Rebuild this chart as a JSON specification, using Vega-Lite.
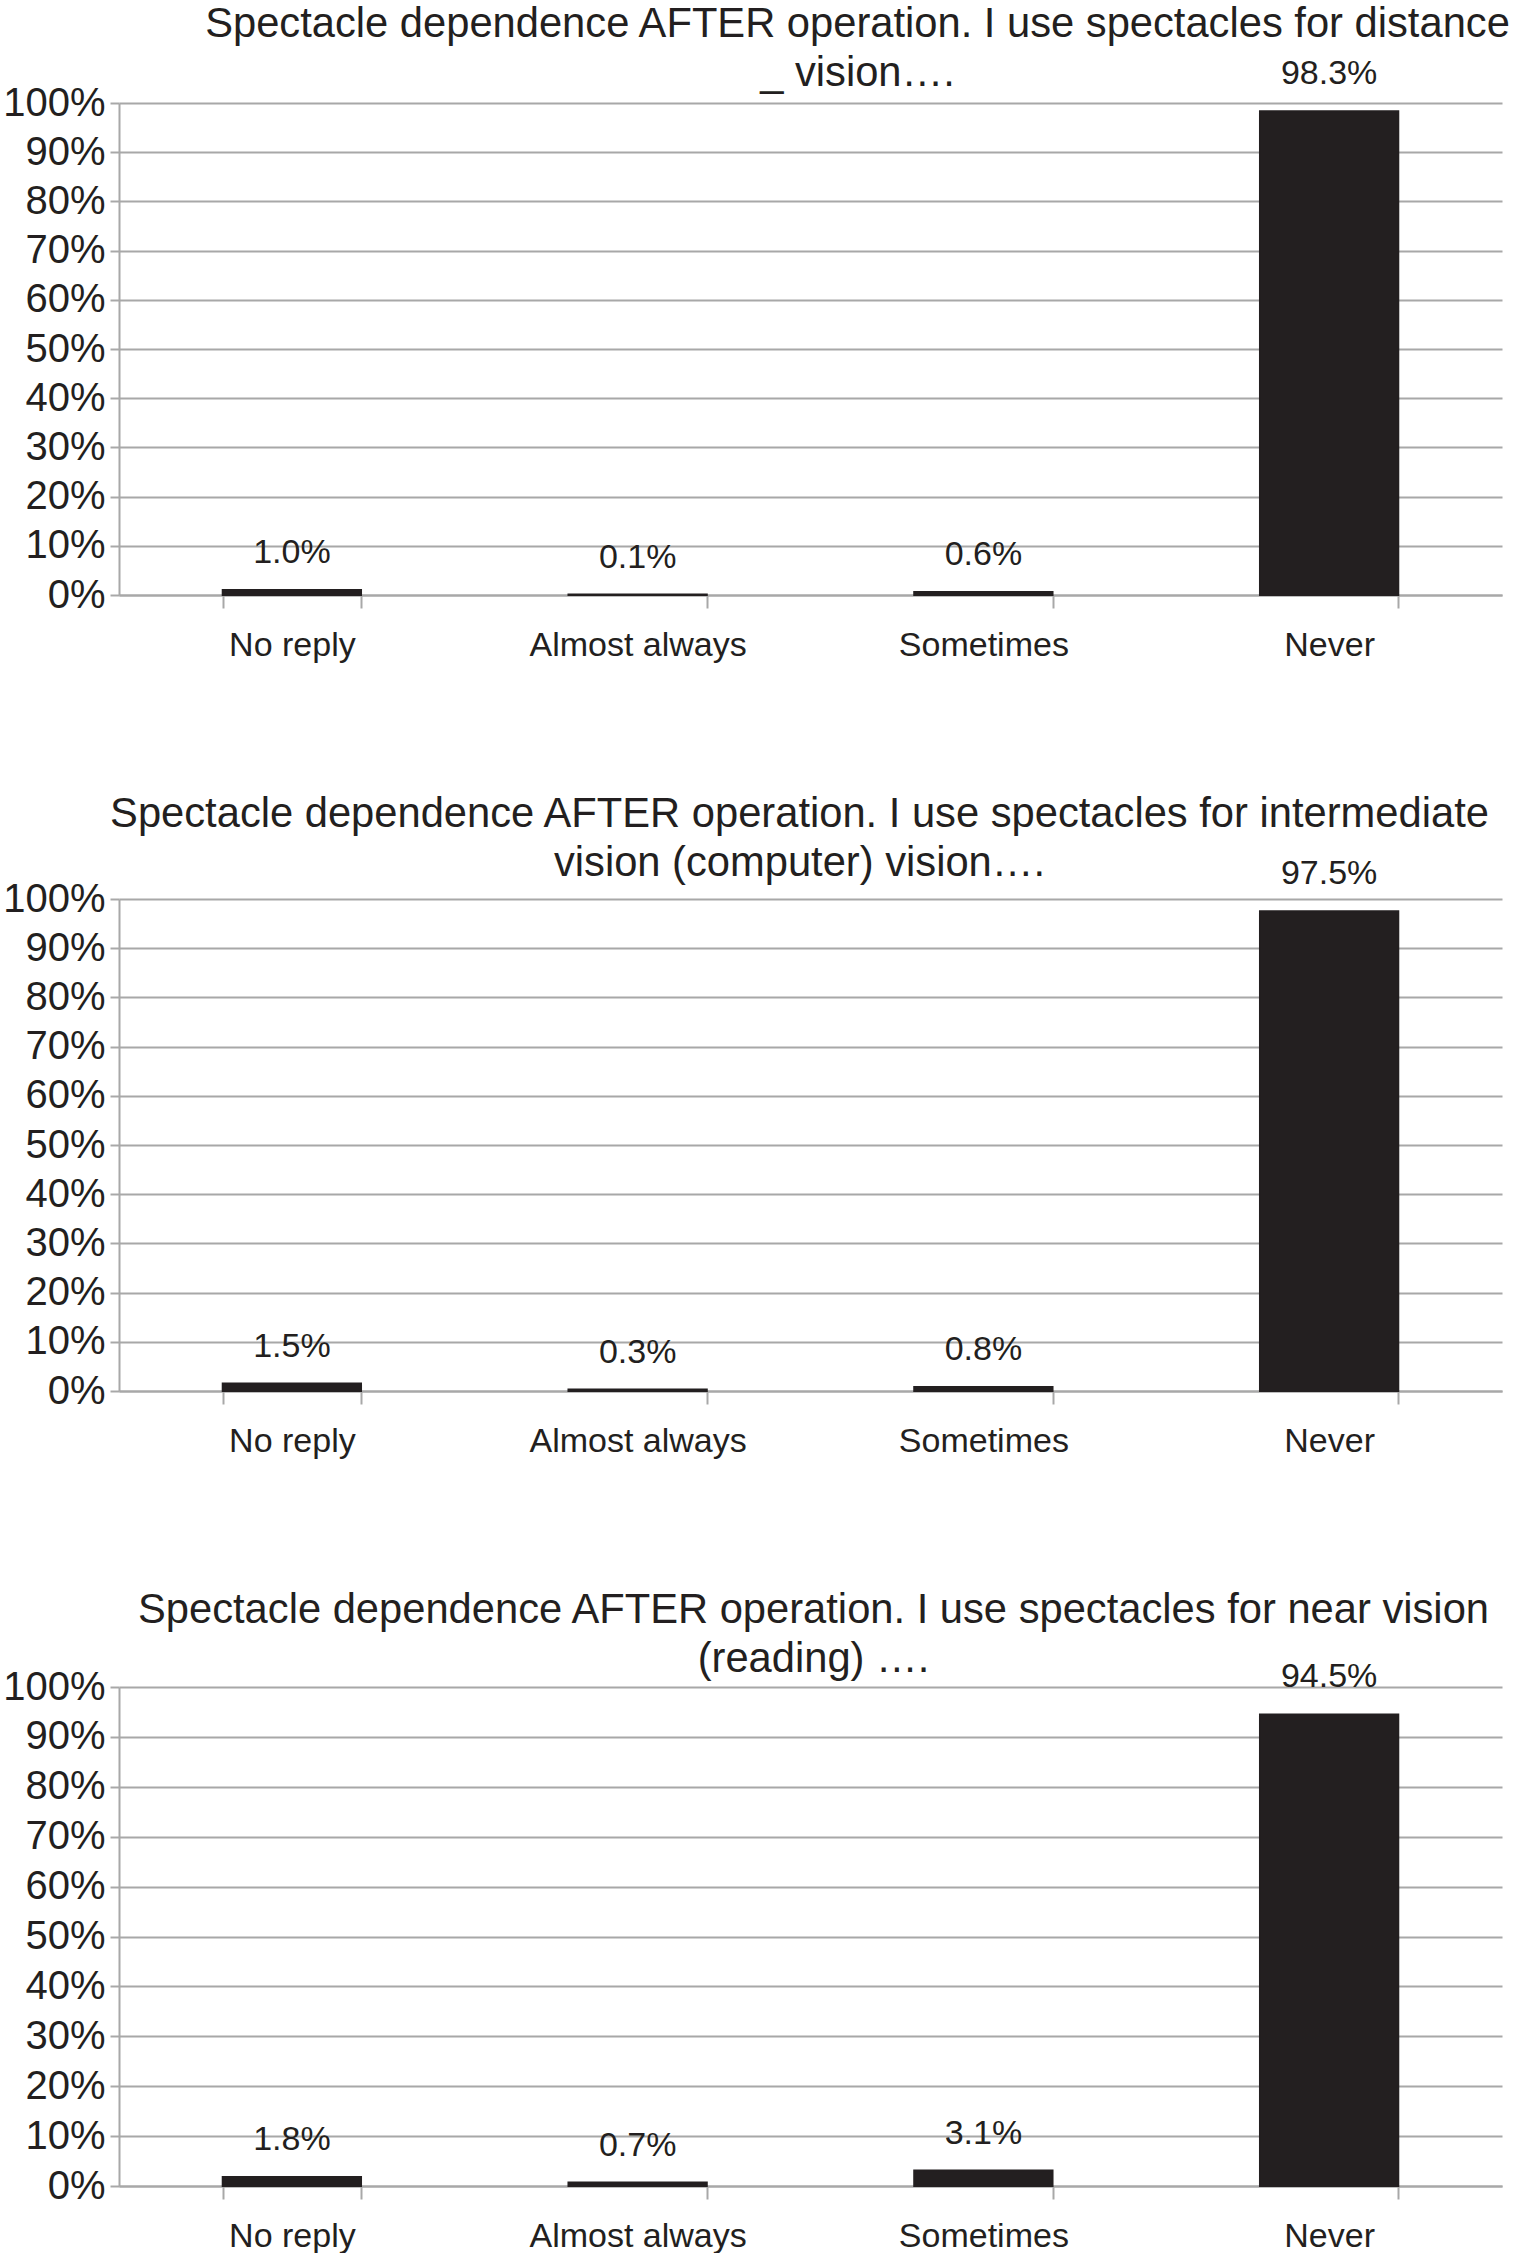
{
  "$schema": "https://vega.github.io/schema/vega-lite/v6.json",
  "background": "white",
  "padding": {"left": 2, "top": 3, "right": 12, "bottom": 0},
  "spacing": 131,
  "config": {
    "font": "Liberation Sans",
    "view": {"stroke": null},
    "title": {"fontSize": 41.7, "fontWeight": "normal", "color": "#231f20", "lineHeight": 49, "anchor": "middle", "frame": "group"},
    "axisY": {"values": [0, 0.1, 0.2, 0.3, 0.4, 0.5, 0.6, 0.7, 0.8, 0.9, 1], "format": ".0%", "labelFontSize": 40, "labelColor": "#231f20", "tickSize": 9, "tickColor": "#a8a8a8", "tickWidth": 2, "domainColor": "#a8a8a8", "domainWidth": 2, "gridColor": "#a8a8a8", "gridWidth": 2, "labelPadding": 5, "title": null},
    "axisX": {"tickBand": "extent", "tickSize": 13, "tickColor": "#a8a8a8", "tickWidth": 2, "domainColor": "#a8a8a8", "domainWidth": 2, "labelFontSize": 34, "labelColor": "#231f20", "labelPadding": 20, "labelAngle": 0, "labelLimit": 0, "grid": false, "title": null},
    "bar": {"color": "#231f20", "stroke": "#231f20", "strokeWidth": 2},
    "text": {"fontSize": 34, "color": "#231f20", "baseline": "bottom", "dy": -20}
  },
  "vconcat": [
    {
      "title": {"text": ["Spectacle dependence AFTER operation. I use spectacles for distance", "_ vision…."], "dx": 47, "offset": -37},
      "width": 1383, "height": 492,
      "data": {"values": [
        {"category": "No reply", "value": 0.010},
        {"category": "Almost always", "value": 0.001},
        {"category": "Sometimes", "value": 0.006},
        {"category": "Never", "value": 0.983}
      ]},
      "encoding": {
        "x": {"field": "category", "type": "nominal", "sort": null, "scale": {"paddingInner": 0.6, "paddingOuter": 0.3}},
        "y": {"field": "value", "type": "quantitative", "scale": {"domain": [0, 1]}}
      },
      "layer": [
        {"mark": {"type": "bar"}},
        {"mark": {"type": "text"}, "encoding": {"text": {"field": "value", "type": "quantitative", "format": ".1%"}}}
      ]
    },
    {
      "title": {"text": ["Spectacle dependence AFTER operation. I use spectacles for intermediate", "vision (computer) vision…."], "dx": -11, "offset": -27},
      "width": 1383, "height": 492,
      "data": {"values": [
        {"category": "No reply", "value": 0.015},
        {"category": "Almost always", "value": 0.003},
        {"category": "Sometimes", "value": 0.008},
        {"category": "Never", "value": 0.975}
      ]},
      "encoding": {
        "x": {"field": "category", "type": "nominal", "sort": null, "scale": {"paddingInner": 0.6, "paddingOuter": 0.3}},
        "y": {"field": "value", "type": "quantitative", "scale": {"domain": [0, 1]}}
      },
      "layer": [
        {"mark": {"type": "bar"}},
        {"mark": {"type": "text"}, "encoding": {"text": {"field": "value", "type": "quantitative", "format": ".1%"}}}
      ]
    },
    {
      "title": {"text": ["Spectacle dependence AFTER operation. I use spectacles for near vision", "(reading) …."], "dx": 3, "offset": -20},
      "width": 1383, "height": 499,
      "data": {"values": [
        {"category": "No reply", "value": 0.018},
        {"category": "Almost always", "value": 0.007},
        {"category": "Sometimes", "value": 0.031},
        {"category": "Never", "value": 0.945}
      ]},
      "encoding": {
        "x": {"field": "category", "type": "nominal", "sort": null, "scale": {"paddingInner": 0.6, "paddingOuter": 0.3}},
        "y": {"field": "value", "type": "quantitative", "scale": {"domain": [0, 1]}}
      },
      "layer": [
        {"mark": {"type": "bar"}},
        {"mark": {"type": "text"}, "encoding": {"text": {"field": "value", "type": "quantitative", "format": ".1%"}}}
      ]
    }
  ]
}
